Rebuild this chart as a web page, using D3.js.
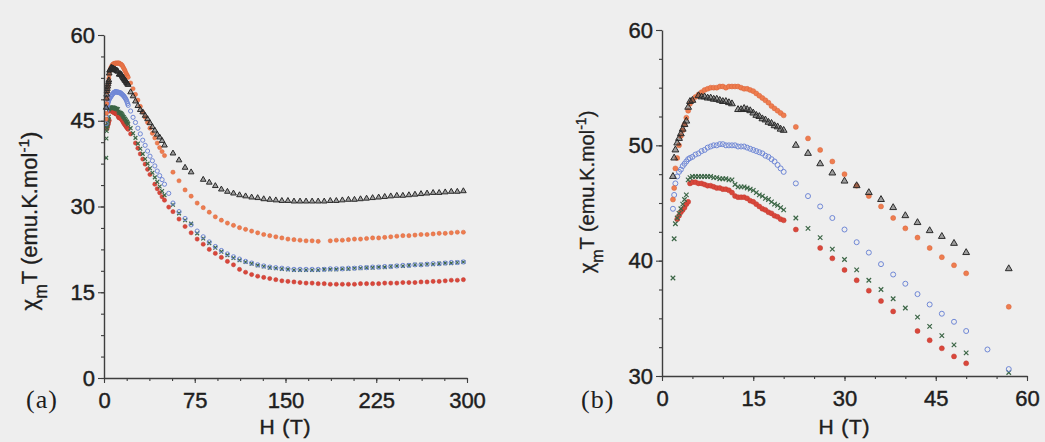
<!DOCTYPE html>
<html><head><meta charset="utf-8">
<script src="https://cdn.jsdelivr.net/npm/d3@7"></script>
<style>html,body{margin:0;padding:0;background:#eeeeee;}svg{display:block;}</style>
</head><body>
<svg id="chart" width="1045" height="442"></svg>
<script>
// ---------- DATA (field H in tesla, chiT in emu.K.mol-1) ----------
const fieldLow = [1.8,2.0,2.2,2.5,2.8,3.1,3.4,3.7,4.0,4.3,4.6,5.0,5.5,6.0,6.5,7.0,7.5,8.0,8.5,9.0,9.5,10.0,10.5,11.0,11.5,12.0,12.5,13.0,13.5,14.0,14.5,15.0,15.5,16.0,16.5,17.0,17.5,18.0,18.5,19.0,19.5,20.0];
const fieldMid = [22,24,26,28,30,32,34,36,38,40,42,44,46,48,50];
const fieldHigh = [53.5,57,62,67,72,77,82,87,92,97,102,107,112,117,122,127,132,137,142,147,152,157,162,167,172,177,182,187,192,197,202,207,212,217,222,227,232,237,242,247,252,257,262,267,272,277,282,287,292,297];

const orangeLow = [45.3,46.3,48.0,48.9,50.0,50.8,51.3,51.8,52.4,53.0,53.6,53.9,54.2,54.4,54.6,54.8,54.9,55.0,55.0,55.0,55.1,55.1,55.0,55.1,55.1,55.1,55.1,55.0,54.9,54.9,54.8,54.7,54.5,54.3,54.1,53.9,53.7,53.4,53.2,53.0,52.8,52.6];
const orangeMid = [51.6,50.6,49.6,48.6,47.5,46.5,45.6,44.7,43.7,42.8,42.0,41.1,40.3,39.6,38.9];
const orangeHigh = [null,36.0,34.5,32.9,31.8,30.6,29.8,29.0,28.2,27.6,27.1,26.7,26.3,26.0,25.7,25.4,25.1,24.9,24.7,24.5,24.3,24.2,24.1,24.0,24.0,23.9,null,24.0,24.1,24.1,24.2,24.3,24.3,24.4,24.5,24.5,24.6,24.7,24.8,24.9,24.9,25.0,25.1,25.1,25.2,25.3,25.3,25.4,25.5,25.5];

const blackLow = [47.3,48.9,49.6,50.2,50.6,51.0,51.4,51.8,52.1,53.3,53.8,53.9,null,54.3,54.2,54.2,54.1,54.1,54.0,54.0,53.9,53.8,53.8,53.7,53.6,null,53.1,53.1,53.2,53.1,53.0,52.8,52.6,52.5,52.3,52.2,52.0,51.9,51.7,51.6,51.4,51.3];
const blackMid = [50.0,49.3,48.4,47.6,46.9,46.5,45.9,45.3,44.6,43.9,43.3,42.6,42.1,41.5,40.7];
const blackHigh = [null,39.3,38.1,36.8,36.0,null,34.7,34.2,33.6,33.0,32.6,32.3,32.0,31.8,31.6,31.5,31.3,31.2,31.1,31.0,31.0,30.9,30.9,30.9,30.9,30.9,30.9,31.0,31.0,31.1,31.2,31.2,31.3,31.4,31.5,31.6,31.7,31.8,31.9,31.9,32.0,32.1,32.2,32.3,32.4,32.4,32.5,32.6,32.6,32.7];

const blueLow = [44.5,45.7,46.7,47.3,47.7,47.9,48.2,48.4,48.6,48.8,48.9,49.0,49.2,49.3,49.5,49.6,49.8,49.9,50.0,50.0,50.1,50.1,50.0,50.0,50.0,50.0,49.9,49.9,49.9,49.8,49.7,49.6,49.5,49.4,49.3,49.1,49.0,48.8,48.6,48.3,48.0,47.7];
const blueMid = [46.7,45.6,44.7,43.7,42.7,41.6,40.7,39.7,38.8,38.0,37.1,36.2,35.4,34.7,33.9];
const blueHigh = [32.3,30.6,29.1,27.9,26.8,25.7,24.7,23.8,23.0,22.3,21.7,21.2,20.8,20.4,20.1,19.8,19.6,19.4,19.3,19.2,19.1,19.0,19.0,19.0,19.0,19.0,19.0,19.1,19.1,19.1,19.2,19.2,19.3,19.3,19.4,19.4,19.5,19.5,19.6,19.7,19.7,19.8,19.8,19.9,20.0,20.0,20.1,20.2,20.2,20.3];

const greenLow = [38.5,41.9,43.2,43.7,44.1,44.5,44.9,45.3,45.7,47.0,47.2,47.3,47.3,47.3,47.3,47.3,47.3,47.3,47.2,47.2,47.1,47.1,47.1,47.0,47.0,46.6,46.4,46.4,46.4,46.3,46.2,46.1,45.9,45.7,45.6,45.4,45.3,45.1,44.9,44.8,44.6,44.4];
const greenMid = [43.7,42.8,42.0,41.0,40.1,39.2,38.3,37.5,36.7,35.9,35.1,34.3,33.5,32.7,32.0];
const greenHigh = [null,30.3,28.8,27.6,27.0,25.3,24.4,23.6,22.8,22.1,21.5,21.0,20.6,20.3,20.0,19.7,19.5,19.3,19.2,19.1,19.0,18.9,18.9,18.9,18.9,18.9,19.0,19.0,19.0,19.1,19.1,19.2,19.2,19.3,19.3,19.4,19.4,19.5,19.6,19.6,19.7,19.8,19.8,19.9,19.9,20.0,20.1,20.1,20.2,20.3];

const redLow = [null,null,null,43.6,43.9,44.2,44.4,44.6,44.9,45.1,46.7,46.8,46.8,46.7,46.7,46.6,46.5,46.5,46.4,46.3,46.3,46.2,46.2,46.1,45.9,45.6,45.5,45.5,45.5,45.4,45.2,45.1,44.9,44.7,44.5,44.4,44.2,44.1,43.9,43.8,43.6,43.5];
const redMid = [42.7,null,41.1,40.2,39.2,38.3,37.4,36.5,35.6,null,33.9,33.1,32.4,31.7,31.1];
const redHigh = [29.9,29.1,27.8,26.5,25.4,24.3,23.4,22.5,21.8,21.1,20.4,19.8,19.0,18.5,18.1,17.8,17.6,17.4,17.2,17.0,16.9,16.8,16.7,16.6,16.6,16.5,16.5,16.4,16.4,16.4,16.4,16.4,16.5,16.5,16.5,16.5,16.6,16.6,16.6,16.7,16.7,16.7,16.8,16.8,16.9,16.9,17.0,17.1,17.1,17.2];

const ticksA_x = [0,75,150,225,300];
const ticksA_y = [0,15,30,45,60];
const ticksB_x = [0,15,30,45,60];
const ticksB_y = [30,40,50,60];

// ---------- build series ----------
function build(low, mid, high) {
  const pts = [];
  fieldLow.forEach((h,i)=>{ if (low[i]!=null) pts.push([h, low[i]]); });
  fieldMid.forEach((h,i)=>{ if (mid[i]!=null) pts.push([h, mid[i]]); });
  fieldHigh.forEach((h,i)=>{ if (high[i]!=null) pts.push([h, high[i]]); });
  return pts;
}
const series = [
  {key:"red",    pts: build(redLow, redMid, redHigh),          shape:"dot",   fill:"#d9473b", stroke:"#c23a30"},
  {key:"green",  pts: build(greenLow, greenMid, greenHigh),    shape:"cross", fill:"none",    stroke:"#3c6646"},
  {key:"blue",   pts: build(blueLow, blueMid, blueHigh),       shape:"ring",  fill:"none",    stroke:"#7088d6"},
  {key:"orange", pts: build(orangeLow, orangeMid, orangeHigh), shape:"dot",   fill:"#ee7d4f", stroke:"#d9623a"},
  {key:"black",  pts: build(blackLow, blackMid, blackHigh),    shape:"tri",   fill:"rgba(60,60,60,0.45)", stroke:"#2a2a2a"}
];

const svg = d3.select("#chart");
svg.append("rect").attr("width",1045).attr("height",442).attr("fill","#eeeeee");

const SANS = "Liberation Sans, Arial, sans-serif";
const INK = "#1e1e1e";

function drawPanel(opt) {
  const x = d3.scaleLinear().domain(opt.xd).range(opt.xr);
  const y = d3.scaleLinear().domain(opt.yd).range(opt.yr);
  const g = svg.append("g");
  const r = opt.r;

  // markers
  series.forEach(s => {
    const pts = s.pts.filter(p => p[0] >= opt.xd[0] && p[0] <= opt.xd[1] && p[1] >= opt.yd[0] && p[1] <= opt.yd[1]);
    const sg = g.append("g");
    if (s.shape === "dot" || s.shape === "ring") {
      sg.selectAll("circle").data(pts).join("circle")
        .attr("cx", d => x(d[0])).attr("cy", d => y(d[1])).attr("r", r)
        .attr("fill", s.fill).attr("stroke", s.stroke)
        .attr("stroke-width", s.shape === "ring" ? 1 : 0.5);
    } else if (s.shape === "tri") {
      const sym = d3.symbol().type(d3.symbolTriangle).size(opt.triSize);
      sg.selectAll("path").data(pts).join("path")
        .attr("transform", d => `translate(${x(d[0])},${y(d[1])})`)
        .attr("d", sym).attr("fill", s.fill).attr("stroke", s.stroke).attr("stroke-width", 1);
    } else {
      const a = r*0.9;
      sg.selectAll("path").data(pts).join("path")
        .attr("d", d => { const cx = x(d[0]), cy = y(d[1]);
          return `M${cx-a},${cy-a}L${cx+a},${cy+a}M${cx-a},${cy+a}L${cx+a},${cy-a}`; })
        .attr("stroke", s.stroke).attr("stroke-width", 1.2).attr("fill","none");
    }
  });

  const axisColor = "#3e3e3e";
  // minor ticks
  const xMinor = d3.range(opt.xd[0], opt.xd[1] + 1e-9, opt.xMinorStep);
  const yMinor = d3.range(opt.yd[0], opt.yd[1] + 1e-9, opt.yMinorStep);
  g.append("g").attr("transform", `translate(0,${opt.yr[0]})`)
    .call(d3.axisBottom(x).tickValues(xMinor).tickSize(3).tickFormat(""))
    .call(a => a.select(".domain").remove());
  g.append("g").attr("transform", `translate(${opt.xr[0]},0)`)
    .call(d3.axisLeft(y).tickValues(yMinor).tickSize(3).tickFormat(""))
    .call(a => a.select(".domain").remove());
  // major axes
  const xa = g.append("g").attr("transform", `translate(0,${opt.yr[0]})`)
    .call(d3.axisBottom(x).tickValues(opt.xt).tickSize(5).tickPadding(9).tickSizeOuter(0));
  const ya = g.append("g").attr("transform", `translate(${opt.xr[0]},0)`)
    .call(d3.axisLeft(y).tickValues(opt.yt).tickSize(6).tickPadding(3).tickSizeOuter(0));
  [xa, ya].forEach(a => {
    a.selectAll("text").attr("font-family", SANS).attr("font-size", 22)
      .attr("fill", INK).attr("stroke", INK).attr("stroke-width", 0.45);
  });
  g.selectAll(".domain").attr("stroke", axisColor).attr("stroke-width", 1.4);
  g.selectAll(".tick line").attr("stroke", axisColor).attr("stroke-width", 1.1);

  // panel letter
  svg.append("text").attr("x", opt.letterX).attr("y", 408)
    .attr("font-family", "Liberation Serif, Times New Roman, serif").attr("font-size", 26)
    .attr("letter-spacing", 1).attr("fill", INK)
    .text(opt.letter);
  // x title
  svg.append("text").attr("x", (opt.xr[0] + opt.xr[1]) / 2).attr("y", 434)
    .attr("text-anchor", "middle").attr("font-family", SANS)
    .attr("font-size", 21).attr("letter-spacing", 0.8)
    .attr("fill", INK).attr("stroke", INK).attr("stroke-width", 0.45).text("H (T)");
  // y title
  const yt = svg.append("text")
    .attr("transform", `translate(${opt.ytX},${opt.ytY}) rotate(-90)`)
    .attr("text-anchor", "middle").attr("font-family", SANS)
    .attr("font-size", opt.ytSize).attr("fill", INK).attr("stroke", INK).attr("stroke-width", 0.35);
  yt.append("tspan").text("χ");
  yt.append("tspan").attr("baseline-shift", "sub").attr("font-size", opt.ytSize * 0.8).text("m");
  yt.append("tspan").text("T (emu.K.mol");
  yt.append("tspan").attr("baseline-shift", "super").attr("font-size", opt.ytSize * 0.7).text("-1");
  yt.append("tspan").text(")");
}

drawPanel({xd:[0,300], yd:[0,60], xr:[104,467], yr:[378,35], xt:ticksA_x, yt:ticksA_y,
  xMinorStep:18.75, yMinorStep:3.75, r:2.1, triSize:14, letter:"(a)", letterX:26, ytX:37, ytY:221, ytSize:22});
drawPanel({xd:[0,60], yd:[30,60], xr:[662,1027], yr:[376,30], xt:ticksB_x, yt:ticksB_y,
  xMinorStep:5, yMinorStep:2.5, r:2.5, triSize:20, letter:"(b)", letterX:581, ytX:594, ytY:192, ytSize:20});
</script>
</body></html>
